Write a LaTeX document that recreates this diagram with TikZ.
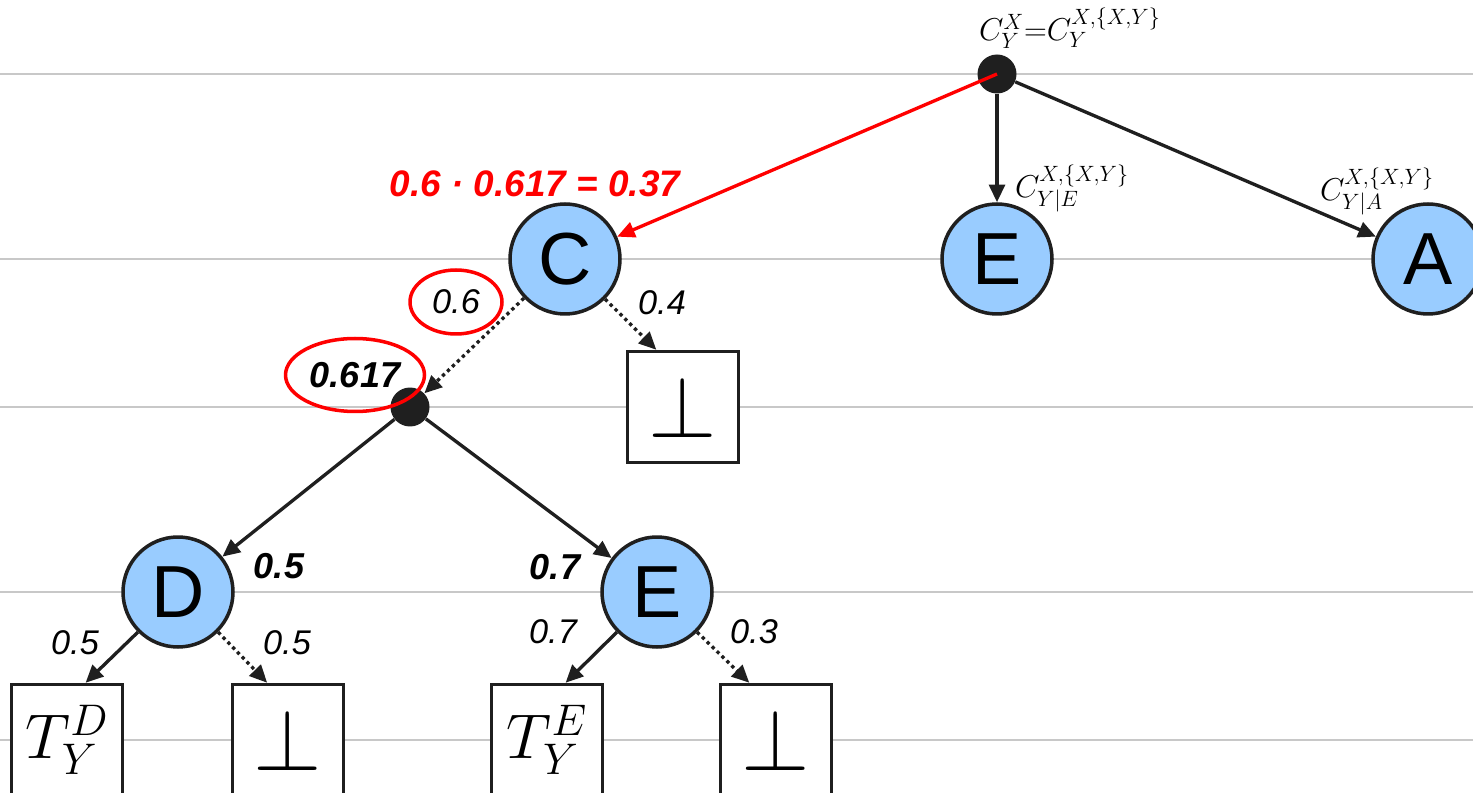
\RequirePackage{fix-cm}
\documentclass[tikz,border=0pt]{standalone}
\usepackage{fontspec}
\usepackage{xcolor}
\usetikzlibrary{arrows.meta,shapes.geometric}
\newfontfamily\arialfont{Liberation Sans}
\definecolor{ink}{HTML}{1F1F1F}
\definecolor{nodeblue}{HTML}{99CCFF}
\definecolor{rulegray}{HTML}{C8C8C8}
\definecolor{hotred}{HTML}{FF0000}
\tikzset{
  varnode/.style={
    circle,
    draw=ink,
    line width=2pt,
    fill=nodeblue,
    minimum size=2.2cm,
    inner sep=0pt,
    text=black,
    font=\arialfont\fontsize{42}{42}\selectfont
  },
  splitdot/.style={circle, fill=ink, minimum size=0.78cm, inner sep=0pt},
  leafbox/.style={
    draw=ink,
    line width=2pt,
    fill=white,
    minimum size=2.22cm,
    inner sep=0pt
  },
  hiarrow/.style={-{Triangle[length=10pt,width=9pt]}, line width=1.9pt, draw=ink},
  loarrow/.style={hiarrow, dotted},
  redarrow/.style={hiarrow, draw=hotred},
  guide/.style={draw=rulegray, line width=1.1pt},
  prob/.style={font=\arialfont\itshape\fontsize{19.5}{20}\selectfont, text=black},
  bprob/.style={font=\arialfont\bfseries\itshape\fontsize{20.5}{21}\selectfont, text=black},
  redprob/.style={font=\arialfont\bfseries\itshape\fontsize{21}{22}\selectfont, text=hotred},
  ring/.style={ellipse, draw=hotred, line width=2pt, inner sep=0pt},
  cplabel/.style={font=\fontsize{18}{20}\selectfont, text=black},
  leaflabel/.style={font=\fontsize{36}{36}\selectfont},
  botlabel/.style={font=\fontsize{50}{50}\selectfont}
}
\begin{document}
\begin{tikzpicture}[x=0.02cm, y=-0.02cm]
  \useasboundingbox (0,0) rectangle (1473,793);

  % level lines
  \draw[guide] (0,74) -- (1473,74);
  \draw[guide] (0,259) -- (1473,259);
  \draw[guide] (0,407) -- (1473,407);
  \draw[guide] (0,592) -- (1473,592);
  \draw[guide] (0,740) -- (1473,740);

  \node[splitdot] (root) at (997,74) {};
  \node[varnode] (C) at (565,259) {C};
  \node[varnode] (E) at (997,259) {E};
  \node[varnode] (A) at (1428,259) {A};

  \node[leafbox, botlabel] (botC) at (683,407) {$\perp$};
  \node[splitdot] (split) at (410,407) {};

  \node[varnode] (D) at (178,592) {D};
  \node[varnode] (E2) at (657,592) {E};

  \node[leafbox, leaflabel] (tD) at (67,740) {$T_Y^D$};
  \node[leafbox, botlabel] (botD) at (288,740) {$\perp$};
  \node[leafbox, leaflabel] (tE) at (547,740) {$T_Y^E$};
  \node[leafbox, botlabel] (botE) at (776,740) {$\perp$};

  \draw[hiarrow] (root) -- (E);
  \draw[hiarrow] (root) -- (A);
  \draw[redarrow] (root.center) -- (C);
  \draw[loarrow] (C) -- (split);
  \draw[loarrow] (C.-45) -- (botC.115);
  \draw[hiarrow] (split) -- (D);
  \draw[hiarrow] (split) -- (E2);
  \draw[hiarrow] (D.-135) -- (tD.72);
  \draw[loarrow] (D.-45) -- (botD.110);
  \draw[hiarrow] (E2.-135) -- (tE.72);
  \draw[loarrow] (E2.-45) -- (botE.115);

  \node[cplabel] (cRoot) at (1070,28) {$C_Y^X{=}C_Y^{X,\{X,Y\}}$};
  \node[cplabel] (cE) at (1072,188) {$C_{Y|E}^{X,\{X,Y\}}$};
  \node[cplabel] (cA) at (1377,191) {$C_{Y|A}^{X,\{X,Y\}}$};

  \node[redprob] (total) at (535,184) {0.6 · 0.617 = 0.37};
  \node[prob, ring, minimum width=1.84cm, minimum height=1.28cm] (pC) at (456,302) {0.6};
  \node[prob] (qC) at (662,303) {0.4};
  \node[bprob, ring, minimum width=2.78cm, minimum height=1.46cm] (pSplit) at (355,375) {0.617};
  \node[bprob] (wD) at (279,566) {0.5};
  \node[bprob] (wE) at (555,567) {0.7};
  \node[prob] (pD) at (75,643) {0.5};
  \node[prob] (qD) at (287,643) {0.5};
  \node[prob] (pE) at (553,632) {0.7};
  \node[prob] (qE) at (754,632) {0.3};
\end{tikzpicture}
\end{document}
